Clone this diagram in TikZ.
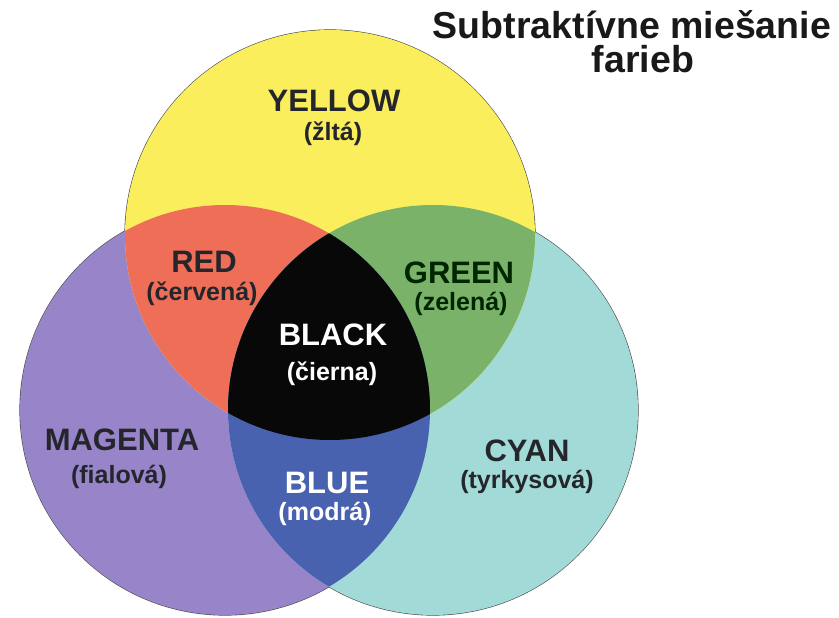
\documentclass[tikz,border=0pt]{standalone}
\usepackage{fontspec}
\setmainfont{Liberation Sans}

\definecolor{cmyYellow}{RGB}{250,238,92}
\definecolor{cmyMagenta}{RGB}{152,132,200}
\definecolor{cmyCyan}{RGB}{162,218,216}
\definecolor{mixRed}{RGB}{239,110,88}
\definecolor{mixGreen}{RGB}{122,178,106}
\definecolor{mixBlue}{RGB}{72,98,176}
\definecolor{mixBlack}{RGB}{8,8,8}
\definecolor{ink}{RGB}{36,38,44}

\begin{document}
\begin{tikzpicture}[x=1pt,y=-1pt]
	\tikzstyle{every node}+=[inner sep=0pt, anchor=base]
	\tikzstyle{colname}=[font=\bfseries\fontsize{31}{31}\selectfont, text=ink]
	\tikzstyle{colsub}=[font=\bfseries\fontsize{25}{25}\selectfont, text=ink]
	\tikzstyle{heading}=[font=\bfseries\fontsize{37.5}{37.5}\selectfont, text=black!90]
	\useasboundingbox (0,0) rectangle (839,618);
	% circle centres
	\coordinate (y) at (330,235);
	\coordinate (m) at (225,410);
	\coordinate (c) at (433,410);
	\def\rad{205}
	% outer rim
	\draw [black!70, line width=1.2pt] (y) circle (\rad) (m) circle (\rad) (c) circle (\rad);
	\fill [cmyMagenta] (m) circle (\rad);
	\fill [cmyCyan] (c) circle (\rad);
	\fill [cmyYellow] (y) circle (\rad);
	% two-colour mixes
	\begin{scope}
		\clip (y) circle (\rad);
		\fill [mixRed] (m) circle (\rad);
		\fill [mixGreen] (c) circle (\rad);
	\end{scope}
	\begin{scope}
		\clip (m) circle (\rad);
		\fill [mixBlue] (c) circle (\rad);
		\clip (c) circle (\rad);
		\fill [mixBlack] (y) circle (\rad);
	\end{scope}
	% labels
	\node [colname] (yellow) at (334,112) {YELLOW};
	\node [colsub] (zlta) at (333,140) {(žltá)};
	\node [colname] (red) at (204,272) {RED};
	\node [colsub] (cervena) at (202,300) {(červená)};
	\node [colname, text=black!85!green] (green) at (459,283) {GREEN};
	\node [colsub, text=black!85!green] (zelena) at (461,310) {(zelená)};
	\node [colname, text=white] (black) at (333,345) {BLACK};
	\node [colsub, text=white] (cierna) at (332,380) {(čierna)};
	\node [colname] (magenta) at (122,450) {MAGENTA};
	\node [colsub] (fialova) at (119,483) {(fialová)};
	\node [colname, text=white] (blue) at (327,493) {BLUE};
	\node [colsub, text=white] (modra) at (325,520) {(modrá)};
	\node [colname] (cyan) at (527,461) {CYAN};
	\node [colsub] (tyrkysova) at (527,488) {(tyrkysová)};
	% title
	\node [heading] (title) at (632,39) {Subtraktívne miešanie};
	\node [heading] (title2) at (643,73) {farieb};
\end{tikzpicture}
\end{document}
